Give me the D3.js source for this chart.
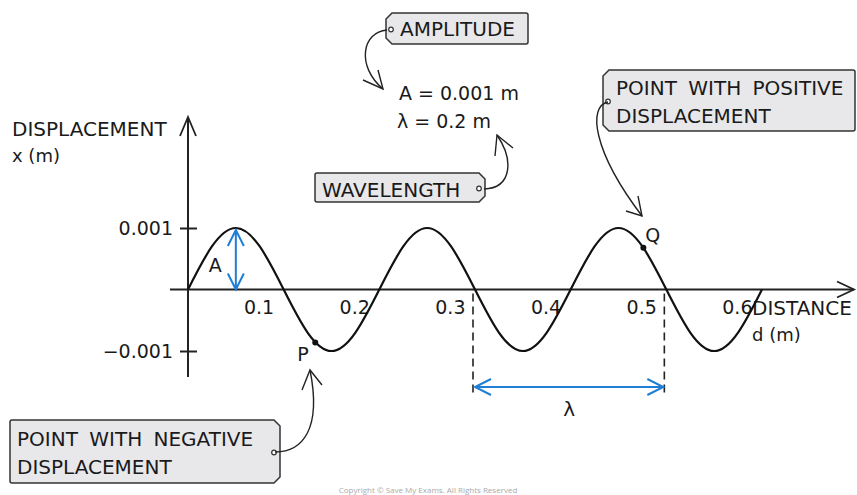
<!DOCTYPE html>
<html>
<head>
<meta charset="utf-8">
<script src="https://cdn.jsdelivr.net/npm/d3@7"></script>
<style>
  body { margin: 0; background: #fff; }
  text { font-family: "DejaVu Sans", sans-serif; fill: #1a1a1a; }
</style>
</head>
<body>
<script>
// wave: every eighth of a wavelength
let waveDistance = [0, 0.025, 0.05, 0.075, 0.1, 0.125, 0.15, 0.175, 0.2,
  0.225, 0.25, 0.275, 0.3, 0.325, 0.35, 0.375, 0.4,
  0.425, 0.45, 0.475, 0.5, 0.525, 0.55, 0.575, 0.6];
let waveDisplacement = [0, 0.0007, 0.001, 0.0007, 0, -0.0007, -0.001, -0.0007, 0,
  0.0007, 0.001, 0.0007, 0, -0.0007, -0.001, -0.0007, 0,
  0.0007, 0.001, 0.0007, 0, -0.0007, -0.001, -0.0007, 0];

let xTicks = [0.1, 0.2, 0.3, 0.4, 0.5, 0.6];
let yTicks = [-0.001, 0.001];

// marked points P and Q
let pointNames = ["P", "Q"];
let pointDistance = [0.133, 0.476];
let pointDisplacement = [-0.00086, 0.00068];

// one wavelength marked between dashed lines
let lambdaFrom = 0.3, lambdaTo = 0.5;
let amplitudeAt = 0.05, amplitude = 0.001;

let W = 857, H = 495;
let blue = "#1f7fd4";

let svg = d3.select("body").append("svg")
  .attr("width", W)
  .attr("height", H);

let x = d3.scaleLinear().domain([0, 0.6]).range([188, 762]);
let y = d3.scaleLinear().domain([-0.001, 0.001]).range([351, 228]);

// axes lines with open arrow heads
svg.append("line")
  .attr("x1", 170).attr("x2", 854)
  .attr("y1", y(0)).attr("y2", y(0))
  .attr("stroke", "#222").attr("stroke-width", 2);
svg.append("path")
  .attr("d", `M837,${y(0) - 8} L854,${y(0)} L837,${y(0) + 8}`)
  .attr("fill", "none").attr("stroke", "#222").attr("stroke-width", 1.8);

svg.append("line")
  .attr("x1", x(0)).attr("x2", x(0))
  .attr("y1", 377).attr("y2", 117)
  .attr("stroke", "#222").attr("stroke-width", 2);
svg.append("path")
  .attr("d", `M${x(0) - 8},136 L${x(0)},117 L${x(0) + 8},136`)
  .attr("fill", "none").attr("stroke", "#222").attr("stroke-width", 1.8);

// y ticks
let yAxis = d3.axisLeft(y).tickValues(yTicks).tickSize(8)
  .tickFormat(d => d < 0 ? "\u22120.001" : "0.001");
let yg = svg.append("g")
  .attr("transform", `translate(${x(0)},0)`)
  .call(yAxis);
yg.select(".domain").remove();
yg.selectAll(".tick line").attr("x2", -8).attr("x1", 9)
  .attr("stroke", "#222").attr("stroke-width", 2);
yg.selectAll(".tick text")
  .attr("x", -15).attr("dy", "0.36em")
  .style("font-size", "19px").style("font-family", "DejaVu Sans").attr("fill", "#1a1a1a");

// x ticks (labels sit just left of the value)
let xAxis = d3.axisBottom(x).tickValues(xTicks).tickSize(0)
  .tickFormat(d3.format(".1f"));
let xg = svg.append("g")
  .attr("transform", `translate(0,${y(0)})`)
  .call(xAxis);
xg.select(".domain").remove();
xg.selectAll(".tick text")
  .attr("text-anchor", "end")
  .attr("x", -10).attr("y", 24).attr("dy", 0)
  .style("font-size", "19px").style("font-family", "DejaVu Sans").attr("fill", "#1a1a1a");

// axis titles
svg.append("text").attr("x", 12).attr("y", 136).style("font-size", "20px").text("DISPLACEMENT");
svg.append("text").attr("x", 12).attr("y", 162).style("font-size", "18px").text("x (m)");
svg.append("text").attr("x", 752).attr("y", 315).style("font-size", "20px").text("DISTANCE");
svg.append("text").attr("x", 752).attr("y", 341).style("font-size", "18px").text("d (m)");

// wavelength dashed guides
svg.selectAll(".guide")
  .data([lambdaFrom, lambdaTo])
  .enter()
  .append("line")
  .attr("class", "guide")
  .attr("x1", d => x(d) - 2).attr("x2", d => x(d) - 2)
  .attr("y1", y(0) + 4).attr("y2", 394)
  .attr("stroke", "#222").attr("stroke-width", 1.6)
  .attr("stroke-dasharray", "8,5");

// the wave
let line = d3.line()
  .x((d, i) => x(waveDistance[i]))
  .y(d => y(d))
  .curve(d3.curveNatural);
svg.append("path")
  .datum(waveDisplacement)
  .attr("d", line)
  .attr("fill", "none")
  .attr("stroke", "#111")
  .attr("stroke-width", 2.2);

// amplitude arrow
let ax = x(amplitudeAt);
let a0 = y(0), a1 = y(amplitude) + 2;
svg.append("path")
  .attr("d", `M${ax},${a0} L${ax},${a1} M${ax - 8},${a1 + 16} L${ax},${a1} L${ax + 8},${a1 + 16} M${ax - 8},${a0 - 16} L${ax},${a0} L${ax + 8},${a0 - 16}`)
  .attr("fill", "none").attr("stroke", blue).attr("stroke-width", 2);
svg.append("text").attr("x", ax - 27).attr("y", 272).style("font-size", "19px").text("A");

// lambda arrow
let l0 = x(lambdaFrom), l1 = x(lambdaTo) - 3, ly = 387;
svg.append("path")
  .attr("d", `M${l0},${ly} L${l1},${ly} M${l0 + 16},${ly - 8} L${l0},${ly} L${l0 + 16},${ly + 8} M${l1 - 16},${ly - 8} L${l1},${ly} L${l1 - 16},${ly + 8}`)
  .attr("fill", "none").attr("stroke", blue).attr("stroke-width", 2);
svg.append("text").attr("x", (l0 + l1) / 2).attr("y", 416)
  .attr("text-anchor", "middle").style("font-size", "20px").text("\u03bb");

// P and Q
svg.selectAll(".pt")
  .data(pointNames)
  .enter()
  .append("circle")
  .attr("class", "pt")
  .attr("cx", (d, i) => x(pointDistance[i]))
  .attr("cy", (d, i) => y(pointDisplacement[i]))
  .attr("r", 3)
  .attr("fill", "#111");
svg.selectAll(".ptl")
  .data(pointNames)
  .enter()
  .append("text")
  .attr("class", "ptl")
  .attr("x", (d, i) => x(pointDistance[i]) + (d == "P" ? -18 : 2))
  .attr("y", (d, i) => y(pointDisplacement[i]) + (d == "P" ? 19 : -6))
  .style("font-size", "19px")
  .text(d => d);

// equations
svg.append("text").attr("x", 399).attr("y", 100).style("font-size", "19px").text("A = 0.001 m");
svg.append("text").attr("x", 397).attr("y", 128).style("font-size", "19px").text("\u03bb = 0.2 m");

// tag shaped labels
function tag(bx, by, w, h, side, lines) {
  let c = 6;
  let p = side == "left"
    ? `M${bx + c},${by} L${bx + w - 2},${by} Q${bx + w},${by} ${bx + w},${by + 2} L${bx + w},${by + h - 2} Q${bx + w},${by + h} ${bx + w - 2},${by + h} L${bx + c},${by + h} L${bx},${by + h - c} L${bx},${by + c} Z`
    : `M${bx + 2},${by} L${bx + w - c},${by} L${bx + w},${by + c} L${bx + w},${by + h - c} L${bx + w - c},${by + h} L${bx + 2},${by + h} Q${bx},${by + h} ${bx},${by + h - 2} L${bx},${by + 2} Q${bx},${by} ${bx + 2},${by} Z`;
  svg.append("path").attr("d", p)
    .attr("fill", "#e8e8eb").attr("stroke", "#333").attr("stroke-width", 1.5);
  let hx = side == "left" ? bx + 5 : bx + w - 6;
  svg.append("circle").attr("cx", hx).attr("cy", by + h / 2 + 1).attr("r", 2.3)
    .attr("fill", "#fff").attr("stroke", "#333").attr("stroke-width", 1.2);
  lines.forEach((t, i) => {
    svg.append("text")
      .attr("x", t.x).attr("y", t.y)
      .style("font-size", "20px")
      .style("word-spacing", "5px")
      .text(t.s);
  });
}

tag(386, 13, 142, 31, "left", [{s: "AMPLITUDE", x: 400, y: 36}]);
tag(315, 173, 170, 29, "right", [{s: "WAVELENGTH", x: 322, y: 197}]);
tag(603, 70, 252, 61, "left", [{s: "POINT WITH POSITIVE", x: 616, y: 95}, {s: "DISPLACEMENT", x: 616, y: 123}]);
tag(10, 420, 270, 63, "right", [{s: "POINT WITH NEGATIVE", x: 17, y: 446}, {s: "DISPLACEMENT", x: 17, y: 474}]);

// callout arrows
let callouts = [
  {d: "M387,30 C362,32 356,66 383,89", tip: [383, 89], a: [363, 80], b: [378, 70]},
  {d: "M484,189 C512,188 514,160 497,135", tip: [497, 135], a: [495, 156], b: [513, 148]},
  {d: "M608,102 C588,106 592,150 642,216", tip: [642, 216], a: [626, 211], b: [638, 196]},
  {d: "M275,452 C302,452 322,430 310,370", tip: [310, 370], a: [302, 390], b: [322, 385]}
];
callouts.forEach(c => {
  svg.append("path").attr("d", c.d)
    .attr("fill", "none").attr("stroke", "#222").attr("stroke-width", 1.4);
  svg.append("path")
    .attr("d", `M${c.a[0]},${c.a[1]} L${c.tip[0]},${c.tip[1]} L${c.b[0]},${c.b[1]}`)
    .attr("fill", "none").attr("stroke", "#222").attr("stroke-width", 1.4);
});

svg.append("text").attr("x", 428).attr("y", 493).attr("text-anchor", "middle")
  .style("font-size", "8px").style("fill", "#aaa").style("font-family", "Open Sans")
  .text("Copyright \u00a9 Save My Exams. All Rights Reserved");
</script>
</body>
</html>
